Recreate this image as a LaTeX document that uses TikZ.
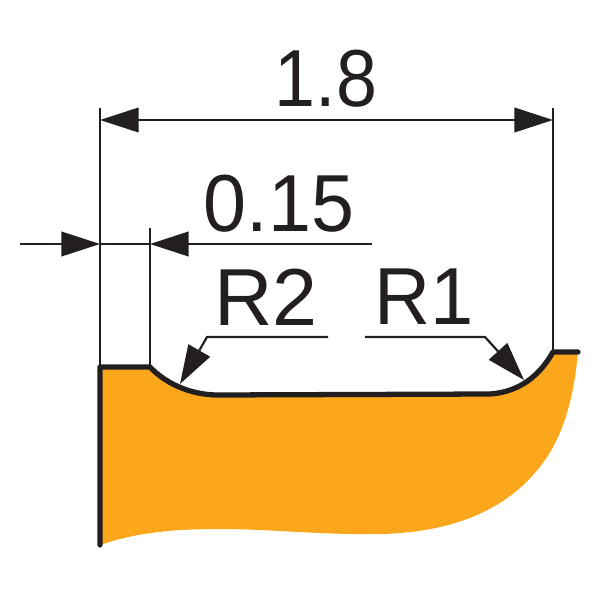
\documentclass[tikz,border=0pt]{standalone}
\usepackage{fontspec}
\setmainfont{Liberation Sans}
\usetikzlibrary{arrows.meta}
\definecolor{fillorange}{HTML}{FBA61B}
\definecolor{inkdark}{HTML}{231F20}
\begin{document}
\begin{tikzpicture}[x=0.01cm,y=-0.01cm,
dimhead/.tip={Triangle[length=11pt,width=7pt,inkdark]},
dimline/.style={draw=inkdark,line width=0.62pt},
dimarrow/.style={dimline,-dimhead},
profile/.style={draw=inkdark,line width=1.5pt,line cap=round,line join=round},
dimlabel/.style={inner sep=0,text=inkdark,font=\fontsize{23}{23}\selectfont}]
\useasboundingbox (0,0) rectangle (600,600);
%body of the part
\fill[fillorange] (100,367) -- (150,367) .. controls (165,383) and (190,395) .. (218,395)
 -- (490,394) .. controls (520,392) and (540,375) .. (553,352) -- (578,352)
 .. controls (575,385) and (568,425) .. (547,457)
 .. controls (525,490) and (480,532) .. (380,534)
 .. controls (320,535) and (270,529) .. (220,529)
 .. controls (170,529) and (135,533) .. (100,545) -- cycle;
%edge points
\coordinate (ltop) at (100,367);
\coordinate (lbot) at (100,545);
\coordinate (stepa) at (150,367);
\coordinate (stepb) at (553,352);
\coordinate (rend) at (578,352);
\coordinate (r2tip) at (180,384);
\coordinate (r1tip) at (524,380);
\draw[profile] (lbot) -- (ltop) -- (stepa) .. controls (165,383) and (190,395) .. (218,395)
 -- (490,394) .. controls (520,392) and (540,375) .. (stepb) -- (rend);
%witness lines
\coordinate (wl) at (100,108);
\coordinate (wm) at (150,228);
\coordinate (wr) at (553,108);
\draw[dimline] (wl) -- (ltop);
\draw[dimline] (wm) -- (stepa);
\draw[dimline] (wr) -- (stepb);
%width
\coordinate (da) at (100,120);
\coordinate (db) at (553,120);
\draw[dimline,dimhead-dimhead] (da) -- (db);
\node[dimlabel,xscale=.91] (width) at (326,79) {1.8};
%small step
\coordinate (sa) at (20,244);
\coordinate (sb) at (100,244);
\coordinate (sc) at (372,244);
\coordinate (sd) at (150,244);
\draw[dimarrow] (sa) -- (sb);
\draw[dimline] (sb) -- (sd);
\draw[dimarrow] (sc) -- (sd);
\node[dimlabel,xscale=.955] (step) at (279,204) {0.15};
%radii
\coordinate (r2end) at (328,337);
\coordinate (r2knee) at (207,337);
\coordinate (r1end) at (365,337);
\coordinate (r1knee) at (485,337);
\draw[dimarrow] (r2end) -- (r2knee) -- (r2tip);
\draw[dimarrow] (r1end) -- (r1knee) -- (r1tip);
\node[dimlabel] (rtwo) at (266,297) {R2};
\node[dimlabel,xscale=.96] (rone) at (424,297) {R1};
\end{tikzpicture}
\end{document}
